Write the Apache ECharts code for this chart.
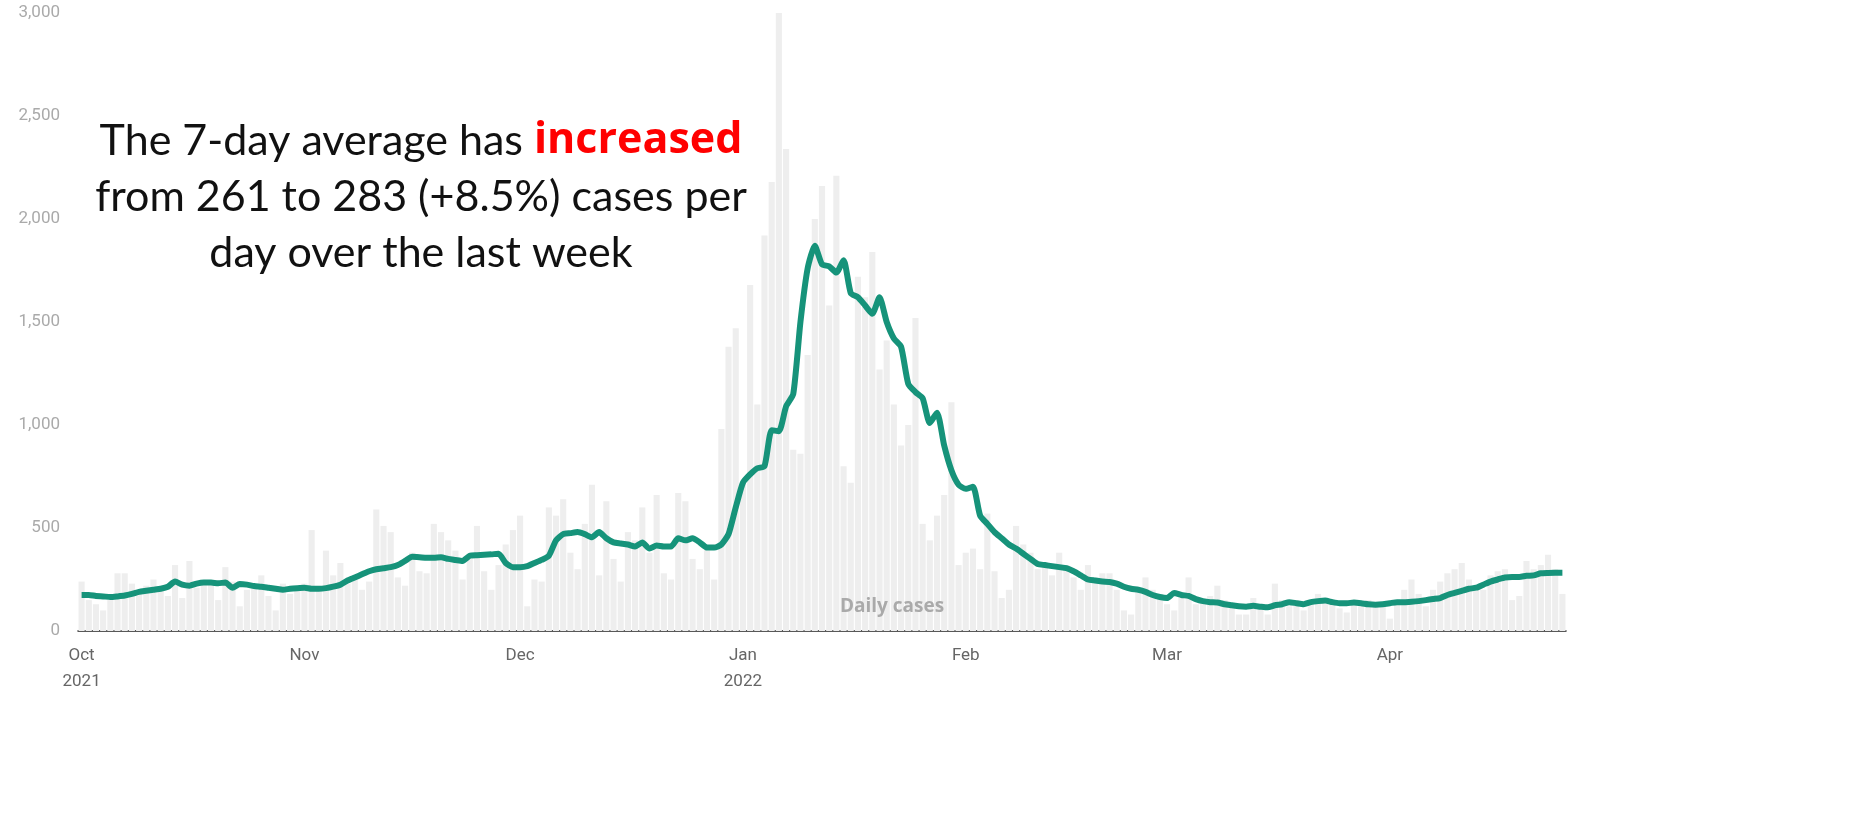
<!DOCTYPE html>
<html><head><meta charset="utf-8">
<script src="https://cdn.jsdelivr.net/npm/echarts@6/dist/echarts.min.js"></script>
<style>html,body{margin:0;padding:0;background:#fff}#c{width:1866px;height:821px}</style>
</head><body><div id="c"></div>
<script>
const monthStarts = [["2021-10",31],["2021-11",30],["2021-12",31],["2022-01",31],["2022-02",28],["2022-03",31],["2022-04",25]];
const monthLabels = {"2021-10":"Oct\n2021","2021-11":"Nov","2021-12":"Dec","2022-01":"Jan\n2022","2022-02":"Feb","2022-03":"Mar","2022-04":"Apr"};
const dailyCases = [
240,150,130,100,150,280,280,230,200,220,250,200,170,320,160,340,210,230,240,150,310,240,120,200,220,270,170,100,230,180,200,
230,490,200,390,270,330,230,250,200,240,590,510,480,260,220,380,290,280,520,480,440,390,250,350,510,290,200,320,420,490,
560,120,250,240,600,560,640,380,300,520,710,270,630,350,240,480,440,600,380,660,280,250,670,630,350,300,400,250,980,1380,1470,
720,1680,1100,1920,2180,3000,2340,880,860,1340,2000,2160,1580,2210,800,720,1720,1620,1840,1270,1410,1100,900,1000,1520,520,440,560,660,1110,320,
380,400,300,570,290,160,200,510,420,380,300,330,270,380,320,260,200,320,260,280,280,200,100,80,200,260,200,180,
130,100,180,260,130,140,170,220,150,130,80,80,160,110,80,230,150,120,150,100,140,180,160,130,110,90,150,120,150,130,140,
60,150,200,250,180,120,200,240,280,300,330,250,220,200,270,290,300,150,170,340,300,320,370,300,180];
const avg7 = [
175,175,170,168,165,168,172,180,190,195,200,205,215,240,225,220,230,235,235,232,235,210,228,225,218,215,210,205,200,205,208,
210,205,205,208,215,225,245,260,275,290,300,305,310,320,340,360,358,355,355,358,350,345,340,365,368,370,372,375,330,310,
310,315,330,345,365,440,470,475,480,470,455,480,450,430,425,420,410,430,400,415,410,410,450,440,450,430,405,405,420,470,600,
720,760,790,800,975,970,1090,1150,1500,1760,1870,1780,1770,1740,1800,1640,1620,1580,1540,1620,1500,1420,1380,1200,1160,1130,1010,1060,900,780,710,
690,700,560,520,480,450,420,400,375,350,325,320,315,310,305,290,270,250,245,240,238,230,215,205,200,190,175,165,
160,185,175,170,155,145,140,138,130,125,120,118,122,118,115,125,130,140,135,130,140,145,148,140,135,135,138,135,130,128,130,
135,140,140,142,145,150,155,160,175,185,195,205,210,225,240,250,260,262,262,268,270,280,282,283,283];
const dates = [];
monthStarts.forEach(([m,n])=>{for(let d=1;d<=n;d++)dates.push(m+"-"+String(d).padStart(2,"0"));});
const chart = echarts.init(document.getElementById('c'));
chart.setOption({
  animation:false,
  grid:{left:78,right:300,top:13,bottom:190},
  xAxis:{type:'category',data:dates,boundaryGap:true,
    axisLine:{lineStyle:{color:'#222',width:1.5}},axisTick:{show:false},
    axisLabel:{interval:(i,v)=>v.endsWith('-01'),formatter:v=>monthLabels[v.slice(0,7)],
      color:'#666',fontSize:17,fontFamily:'Roboto',lineHeight:26,margin:12}},
  yAxis:{type:'value',min:0,max:3000,interval:500,splitLine:{show:false},
    axisLabel:{color:'#aaa',fontSize:17,fontFamily:'Roboto',margin:18,formatter:v=>v.toLocaleString('en-US')}},
  series:[
    {type:'bar',data:dailyCases,barCategoryGap:'15%',itemStyle:{color:'#eeeeee'},silent:true},
    {type:'line',data:avg7,symbol:'none',smooth:0.2,lineStyle:{color:'#16937a',width:6},z:5}
  ],
  graphic:[
    {type:'text',x:421,y:113,z:100,style:{text:'The 7-day average has {r|increased}\nfrom 261 to 283 (+8.5%) cases per\nday over the last week',
      align:'center',verticalAlign:'top',font:'normal 43px Lato, "Open Sans", sans-serif',fill:'#111',lineHeight:56,
      rich:{r:{fill:'#ff0000',fontWeight:'bold',fontSize:43,fontFamily:'"Open Sans"',lineHeight:56}}}},
    {type:'text',x:892,y:607,z:100,style:{text:'Daily cases',align:'center',verticalAlign:'middle',font:'bold 19px "Open Sans"',fill:'#aaa'}}
  ]
});
</script></body></html>
